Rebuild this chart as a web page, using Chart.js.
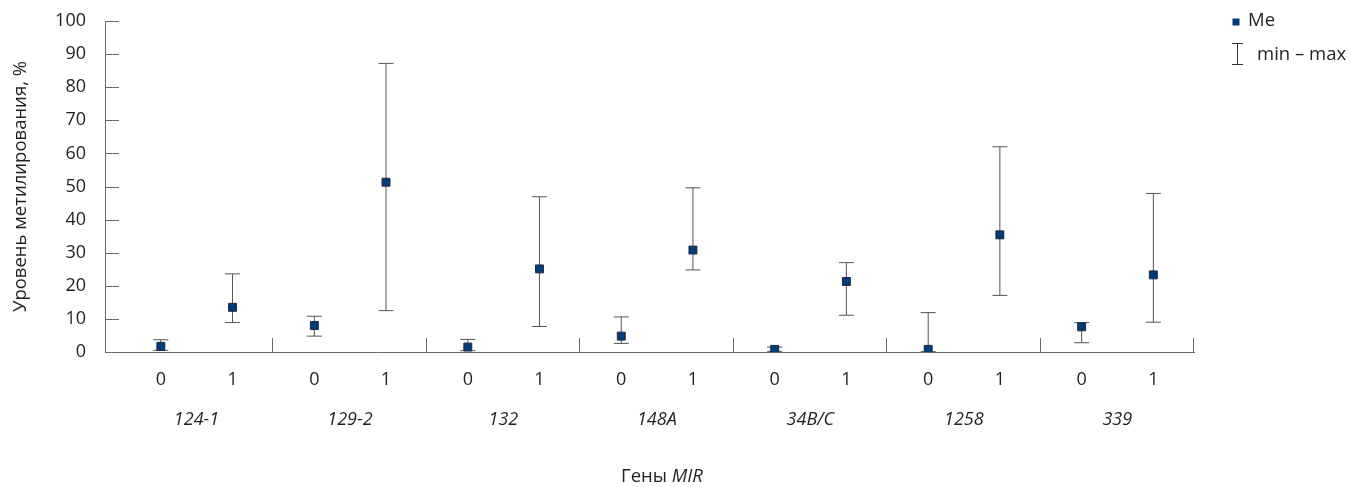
<!DOCTYPE html>
<html>
<head>
<meta charset="utf-8">
<script src="https://cdn.jsdelivr.net/npm/chart.js@4"></script>
<style>
  html, body { margin: 0; padding: 0; background: #fff; }
  #wrap { width: 1351px; height: 487px; position: relative; }
</style>
</head>
<body>
<div id="wrap"><canvas id="meth"></canvas></div>
<script>
// MIR genes, status 0 / 1
const groups = ['124-1', '129-2', '132', '148A', '34B/C', '1258', '339'];
const states = ['0', '1'];

// median (Me) and min / max, %
const me0  = [1.7, 8.0, 1.5, 4.8, 0.8, 0.8, 7.6];
const min0 = [0.5, 4.8, 0.4, 2.6, 0.2, 0.1, 2.8];
const max0 = [3.7, 10.8, 3.8, 10.6, 1.5, 11.9, 8.9];
const me1  = [13.5, 51.3, 25.1, 30.8, 21.3, 35.4, 23.3];
const min1 = [8.9, 12.5, 7.7, 24.8, 11.1, 17.1, 9.0];
const max1 = [23.6, 87.2, 46.9, 49.6, 27.0, 62.0, 47.9];

const FONT = "'Open Sans', sans-serif";
const AXIS = '#666';
const TEXT = '#231f20';
const NAVY = '#003b7a';

// where a status sits inside its gene group (group width = 1)
const xOf = (g, s) => g + (s === 0 ? 0.268 : 0.735);

const me = [], caps = [], bars = [];
groups.forEach((name, g) => {
  [[me0, min0, max0], [me1, min1, max1]].forEach(([m, lo, hi], s) => {
    const x = xOf(g, s);
    me.push({ x: x, y: m[g] });
    caps.push({ x: x, y: lo[g] }, { x: x, y: hi[g] });
    bars.push({ x: x, y: [lo[g], hi[g]] });
  });
});

// ticks pointing into the plot, group separators on the x axis, legend, x title
const extras = {
  id: 'extras',
  afterDraw(chart) {
    const { ctx, chartArea: a, scales } = chart;
    ctx.save();
    ctx.strokeStyle = AXIS;
    ctx.lineWidth = 1;
    ctx.beginPath();
    scales.y.ticks.forEach(t => {
      if (t.value === 0) return;
      const y = Math.round(scales.y.getPixelForValue(t.value)) + 0.5;
      ctx.moveTo(a.left, y);
      ctx.lineTo(a.left + 14, y);
    });
    for (let g = 1; g <= groups.length; g++) {
      const x = Math.round(scales.x.getPixelForValue(g)) - 0.5;
      ctx.moveTo(x, a.bottom);
      ctx.lineTo(x, a.bottom - 14);
    }
    ctx.stroke();

    // x title: "Гены MIR"
    ctx.fillStyle = TEXT;
    ctx.textBaseline = 'middle';
    ctx.textAlign = 'left';
    const f1 = "18.5px " + FONT, f2 = "italic 18.5px " + FONT;
    ctx.font = f1;
    const w1 = ctx.measureText('Гены ').width;
    ctx.font = f2;
    const w2 = ctx.measureText('MIR').width;
    let x0 = 662 - (w1 + w2) / 2;
    ctx.font = f1;
    ctx.fillText('Гены ', x0, 477);
    ctx.font = f2;
    ctx.fillText('MIR', x0 + w1, 477);

    // legend
    ctx.font = "18.5px " + FONT;
    ctx.fillStyle = NAVY;
    ctx.fillRect(1232.5, 18.5, 7, 7);
    ctx.fillStyle = TEXT;
    ctx.fillText('Me', 1248, 21);
    ctx.strokeStyle = '#333';
    ctx.beginPath();
    ctx.moveTo(1237.5, 43); ctx.lineTo(1237.5, 65);
    ctx.moveTo(1232, 43.5); ctx.lineTo(1243, 43.5);
    ctx.moveTo(1232, 64.5); ctx.lineTo(1243, 64.5);
    ctx.stroke();
    ctx.fillText('min – max', 1257, 55);
    ctx.restore();
  }
};

new Chart(document.getElementById('meth'), {
  type: 'scatter',
  data: {
    datasets: [
      {
        label: 'Me',
        data: me,
        pointStyle: 'rect',
        radius: 5.6,
        backgroundColor: NAVY,
        borderColor: '#1c2a3c',
        borderWidth: 1,
        order: 1
      },
      {
        label: 'caps',
        data: caps,
        pointStyle: 'line',
        radius: 7.5,
        borderColor: '#555',
        borderWidth: 1,
        order: 2
      },
      {
        type: 'bar',
        label: 'min – max',
        data: bars,
        backgroundColor: '#555',
        borderWidth: 0,
        barThickness: 1,
        inflateAmount: 0,
        order: 3
      }
    ]
  },
  options: {
    responsive: true,
    maintainAspectRatio: false,
    animation: false,
    events: [],
    layout: { padding: { top: 21, right: 157, bottom: 0, left: 0 } },
    plugins: { legend: { display: false }, tooltip: { enabled: false } },
    scales: {
      x: {
        type: 'linear',
        offset: false,
        min: -0.096,
        max: 7.0,
        grid: { display: false, drawTicks: false },
        border: { color: AXIS },
        afterBuildTicks: s => {
          s.ticks = me.map(p => ({ value: p.x }));
        },
        ticks: {
          padding: 17,
          color: TEXT,
          font: { family: FONT, size: 18 },
          maxRotation: 0,
          autoSkip: false,
          callback: (v, i) => states[i % 2]
        },
        afterFit: s => { s.height = 36; }
      },
      x2: {
        type: 'linear',
        position: 'bottom',
        weight: 1,
        offset: false,
        min: -0.096,
        max: 7.0,
        grid: { display: false, drawTicks: false },
        border: { display: false },
        afterBuildTicks: s => {
          s.ticks = groups.map((name, g) => ({ value: g + 0.5 }));
        },
        ticks: {
          padding: 21,
          color: TEXT,
          font: { family: FONT, size: 18, style: 'italic' },
          maxRotation: 0,
          autoSkip: false,
          callback: (v, i) => groups[i]
        },
        afterFit: s => { s.height = 99; }
      },
      y: {
        min: 0,
        max: 100,
        // tick marks are hidden; their length only sets the label gap
        grid: { display: false, drawTicks: true, tickLength: 19 },
        border: { color: AXIS },
        ticks: {
          stepSize: 10,
          padding: 0,
          color: TEXT,
          font: { family: FONT, size: 18 }
        },
        title: {
          display: true,
          text: 'Уровень метилирования, %',
          color: TEXT,
          font: { family: FONT, size: 18.5 },
          padding: { top: 10, bottom: 0 }
        },
        afterFit: s => { s.width = 105; }
      }
    }
  },
  plugins: [extras]
});
</script>
</body>
</html>
